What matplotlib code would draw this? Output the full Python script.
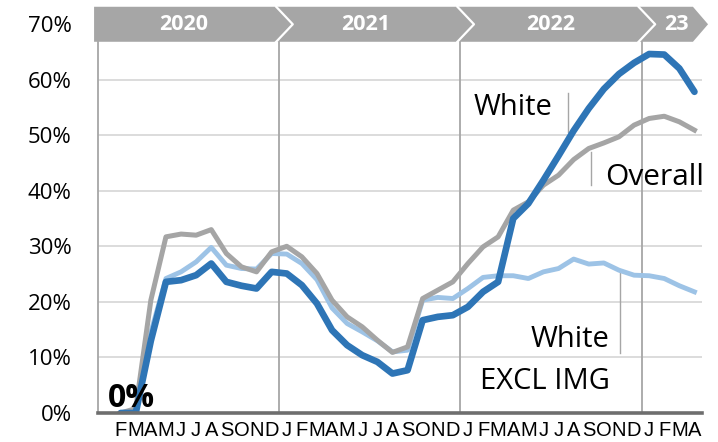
import numpy as np
import matplotlib.pyplot as plt
from matplotlib import font_manager

# months Jan 2020 .. Apr 2023 (Jan 2020 has no data / no label)
month_labels = [""] + list("FMAMJJASOND") + list("JFMAMJJASOND") * 2 + list("JFMA")
years = ["2020", "2021", "2022", "23"]
year_label_x = [5.2, 17.25, 29.5, 37.8]

nan = np.nan
white = [nan, 0, 0, 13, 23.6, 23.9, 24.8, 26.9, 23.6, 22.9, 22.4, 25.4,
         25.1, 23.0, 19.7, 14.9, 12.2, 10.4, 9.2, 7.1, 7.7, 16.7, 17.3, 17.6,
         19.1, 21.8, 23.6, 35.0, 37.7, 41.9, 46.3, 50.8, 54.8, 58.3, 61.0, 63.0,
         64.6, 64.5, 62.0, 57.8]
overall = [nan, 0, 0.8, 20.3, 31.7, 32.2, 32.0, 33.0, 28.7, 26.3, 25.4, 29.0,
           30.0, 28.1, 25.1, 20.3, 17.3, 15.5, 13.1, 10.9, 11.9, 20.6, 22.1, 23.6,
           26.9, 29.9, 31.7, 36.5, 38.0, 41.0, 42.8, 45.6, 47.6, 48.6, 49.7, 51.8,
           53.0, 53.4, 52.4, 50.9]
white_excl_img = [nan, 0, 0.5, 14.5, 24.2, 25.4, 27.2, 29.8, 26.6, 26.0, 25.9, 28.7,
                  28.6, 26.9, 24.0, 18.9, 16.1, 14.6, 13.0, 11.0, 11.3, 20.3, 20.8, 20.6,
                  22.4, 24.4, 24.7, 24.7, 24.2, 25.4, 26.0, 27.7, 26.8, 27.0, 25.7, 24.8,
                  24.7, 24.2, 22.9, 21.8]

names = {f.name for f in font_manager.fontManager.ttflist}
tick_font = "Liberation Sans Narrow" if "Liberation Sans Narrow" in names else "Liberation Sans"
plt.rcParams["font.family"] = ["Open Sans", "DejaVu Sans"]

fig = plt.figure(figsize=(7.18, 4.42), dpi=100)
ax = fig.add_axes([98 / 718, 1 - 413 / 442, 604 / 718, 389 / 442])
x = np.arange(len(month_labels))

ax.set_xlim(-0.5, 39.5)
ax.set_ylim(0, 70)

# grid
for v in range(10, 70, 10):
    ax.axhline(v, color="#D9D9D9", lw=1.3, zorder=0)
for b in [-0.5, 11.5, 23.5, 35.5]:
    ax.plot([b, b], [0, 66.8], color="#A6A6A6", lw=1.3, zorder=0.5, clip_on=False)

ax.plot(x, white_excl_img, color="#9DC3E6", lw=3.5, zorder=2, solid_joinstyle="round")
ax.plot(x, overall, color="#A5A5A5", lw=3.6, zorder=3, solid_joinstyle="round")
ax.plot(x, white, color="#2E75B6", lw=4.8, zorder=4, solid_joinstyle="round",
        solid_capstyle="round")

for s in ["top", "right", "left"]:
    ax.spines[s].set_visible(False)
ax.spines["bottom"].set_color("#6E6E6E")
ax.spines["bottom"].set_linewidth(2.6)
ax.spines["bottom"].set_zorder(5)

ax.set_yticks(range(0, 80, 10))
ax.set_yticklabels([f"{v}%" for v in range(0, 80, 10)], fontsize=16)
ax.set_xticks(x)
ax.set_xticklabels(month_labels, fontsize=14.5, family=tick_font)
ax.tick_params(length=0)
ax.tick_params(axis="y", pad=19)
ax.tick_params(axis="x", pad=6)

# year banner
yb, yt, ym = 66.8, 73.1, 69.95
ax.fill([-0.76, -0.76, 38.9, 39.9, 38.9], [yb, yt, yt, ym, yb],
        color="#A6A6A6", clip_on=False, zorder=6, lw=0)
for b in [11.5, 23.5, 35.5]:
    ax.plot([b - 0.2, b + 0.9, b - 0.2], [yt, ym, yb], color="white", lw=1.6,
            clip_on=False, zorder=7)
for lbl, xp in zip(years, year_label_x):
    ax.text(xp, ym, lbl, color="white", fontsize=15.5, fontweight="bold",
            ha="center", va="center", zorder=8)

# series labels with leader lines
lead = dict(color="#A6A6A6", lw=1, zorder=1)
ax.text(29.57, 54.9, "White", fontsize=21, ha="right", va="center")
ax.plot([30.6, 30.6], [50.6, 57.6], **lead)
ax.text(33.08, 42.3, "Overall", fontsize=21.5, ha="left", va="center")
ax.plot([32.15, 32.15], [41.0, 47.0], **lead)
ax.text(33.4, 13.3, "White", fontsize=21, ha="right", va="center")
ax.text(33.4, 5.6, "EXCL IMG", fontsize=21, ha="right", va="center")
ax.plot([34.07, 34.07], [10.8, 25.7], **lead)
ax.text(0.16, 2.6, "0%", fontsize=23, fontweight="bold", ha="left", va="center",
        zorder=6)

fig.savefig("out.png", dpi=100)
